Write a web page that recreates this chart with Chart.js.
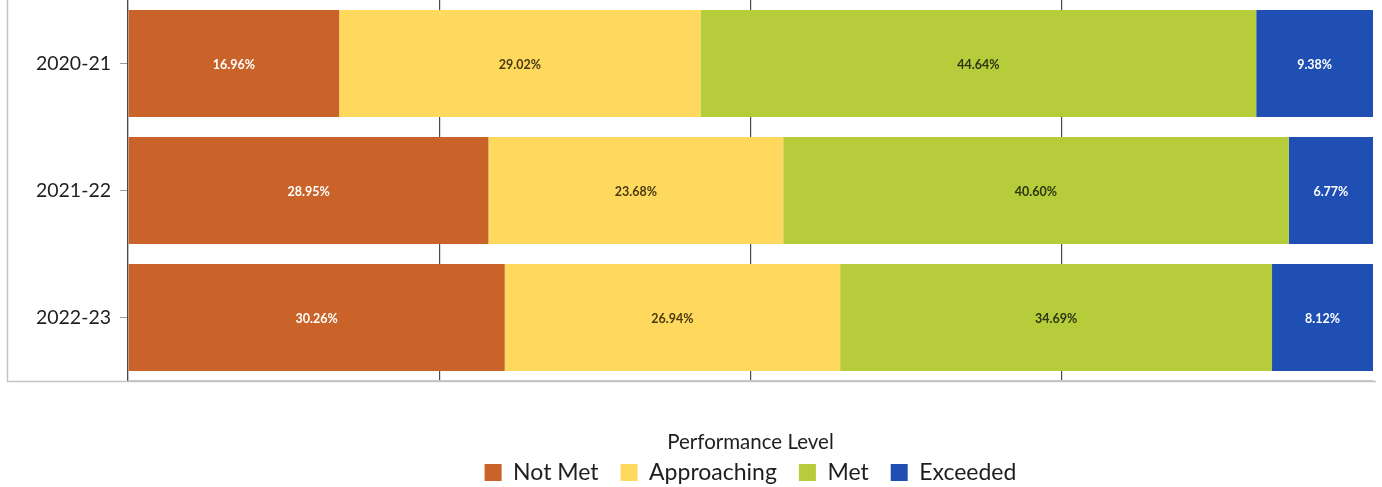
<!DOCTYPE html>
<html>
<head>
<meta charset="utf-8">
<script src="https://cdn.jsdelivr.net/npm/chart.js@4.4.1/dist/chart.umd.min.js"></script>
<style>
  html, body { margin: 0; padding: 0; background: #ffffff; overflow: hidden; }
  #wrap { width: 1382px; height: 494px; position: relative; }
</style>
</head>
<body>
<div id="wrap"><canvas id="c" width="1382" height="494"></canvas></div>
<script>
// ---- data ----
const categories = ['2020-21', '2021-22', '2022-23'];
const seriesNames = ['Not Met', 'Approaching', 'Met', 'Exceeded'];
const notMet = [16.96, 28.95, 30.26];
const approaching = [29.02, 23.68, 26.94];
const met = [44.64, 40.60, 34.69];
const exceeded = [9.38, 6.77, 8.12];
const xTicks = [0, 25, 50, 75, 100];
const legendTitle = 'Performance Level';

// ---- styles ----
const colors = ['#C9632A', '#FFD95E', '#B6CC3B', '#1F4FB3'];
const labelColors = ['#ffffff', '#4a3a10', '#2c3510', '#ffffff'];
const FONT = 'Lato, "Open Sans", sans-serif';

const valueLabels = {
  id: 'valueLabels',
  afterDatasetsDraw(chart) {
    const ctx = chart.ctx;
    ctx.save();
    ctx.font = 'bold 12.5px ' + FONT;
    ctx.textAlign = 'center';
    ctx.textBaseline = 'middle';
    chart.data.datasets.forEach((ds, di) => {
      const meta = chart.getDatasetMeta(di);
      meta.data.forEach((el, i) => {
        const v = ds.data[i];
        ctx.fillStyle = labelColors[di];
        ctx.fillText(v.toFixed(2) + '%', (el.x + el.base) / 2, el.y + 1);
      });
    });
    ctx.restore();
  }
};

const frame = {
  id: 'frame',
  afterDraw(chart) {
    const ctx = chart.ctx, a = chart.chartArea;
    ctx.save();
    ctx.strokeStyle = '#c4c4c4';
    ctx.lineWidth = 1.5;
    ctx.beginPath();
    ctx.moveTo(7.5, 0);
    ctx.lineTo(7.5, a.bottom + 0.5);
    ctx.lineTo(a.right + 3, a.bottom + 0.5);
    ctx.stroke();
    ctx.restore();
  }
};

new Chart(document.getElementById('c'), {
  type: 'bar',
  data: {
    labels: categories,
    datasets: [notMet, approaching, met, exceeded].map((d, i) => ({
      label: seriesNames[i],
      data: d,
      backgroundColor: colors[i],
      borderWidth: 0,
      barPercentage: 0.843,
      categoryPercentage: 1.0
    }))
  },
  options: {
    indexAxis: 'y',
    responsive: false,
    animation: false,
    devicePixelRatio: 1,
    layout: { padding: { left: 0, right: 9, top: 0, bottom: 0 } },
    scales: {
      x: {
        stacked: true,
        min: 0,
        max: 100,
        z: 1,
        afterBuildTicks(scale) { scale.ticks = xTicks.map(v => ({ value: v })); },
        afterFit(scale) {
          scale.height = 50.75;
          scale.paddingLeft = 0; scale.paddingRight = 0;
        },
        ticks: { display: false },
        grid: {
          color: (c) => (c.tick && c.tick.value === 100) ? 'rgba(0,0,0,0)' : '#4a4a4a',
          lineWidth: 1.2,
          tickLength: 0,
          drawTicks: false
        },
        border: { display: true, color: '#c4c4c4', width: 1.5 }
      },
      y: {
        stacked: true,
        afterFit(scale) {
          scale.width = 128;
          scale.paddingTop = 0; scale.paddingBottom = 0;
        },
        ticks: {
          color: '#1e1e1e',
          font: { family: FONT, size: 19.5 },
          padding: 9
        },
        grid: {
          offset: false,
          drawOnChartArea: false,
          color: '#9a9a9a',
          tickLength: 8
        },
        border: { display: true, color: '#4a4a4a', width: 1.2 }
      }
    },
    plugins: {
      tooltip: { enabled: false },
      legend: {
        position: 'bottom',
        fullSize: false,
        title: {
          display: true,
          text: legendTitle,
          color: '#1e1e1e',
          font: { family: FONT, size: 20.5 },
          padding: { top: 0, bottom: -17.35 }
        },
        labels: {
          color: '#1e1e1e',
          font: { family: FONT, size: 23 },
          boxWidth: 17,
          boxHeight: 17,
          padding: 22
        }
      }
    }
  },
  plugins: [valueLabels, frame]
});
</script>
</body>
</html>
